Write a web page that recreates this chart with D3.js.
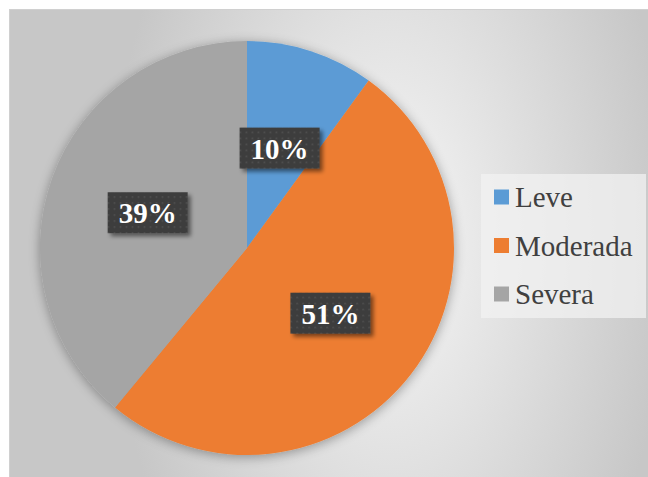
<!DOCTYPE html>
<html>
<head>
<meta charset="utf-8">
<script src="https://cdn.jsdelivr.net/npm/d3@7"></script>
<style>
body { margin:0; background:#fff; }
</style>
</head>
<body>
<div id="chart"></div>
<script>
var categories = ["Leve", "Moderada", "Severa"];
var values = [10, 51, 39];
var colors = ["#5b9bd5", "#ed7d31", "#a5a5a5"];

var width = 648, height = 477;
var cx = 247, cy = 248, radius = 207;
var serif = "'Liberation Serif', 'Times New Roman', serif";

var svg = d3.select("#chart")
    .append("svg")
    .attr("width", width)
    .attr("height", height);

var defs = svg.append("defs");

var grad = defs.append("radialGradient")
    .attr("id", "bg")
    .attr("gradientUnits", "userSpaceOnUse")
    .attr("cx", 390).attr("cy", 240)
    .attr("r", 330)
    .attr("gradientTransform", "translate(390,240) scale(0.85,1.5) translate(-390,-240)");
grad.append("stop").attr("offset", "0%").attr("stop-color", "#f7f7f7");
grad.append("stop").attr("offset", "100%").attr("stop-color", "#c7c7c7");

var shadow = defs.append("filter").attr("id", "pieShadow")
    .attr("x", "-20%").attr("y", "-20%").attr("width", "140%").attr("height", "140%");
shadow.append("feGaussianBlur").attr("in", "SourceAlpha").attr("stdDeviation", 6);
shadow.append("feOffset").attr("dx", 0).attr("dy", 2).attr("result", "b");
shadow.append("feComponentTransfer").append("feFuncA").attr("type", "linear").attr("slope", 0.35);
var merge = shadow.append("feMerge");
merge.append("feMergeNode");
merge.append("feMergeNode").attr("in", "SourceGraphic");

var boxShadow = defs.append("filter").attr("id", "boxShadow")
    .attr("x", "-20%").attr("y", "-20%").attr("width", "150%").attr("height", "160%");
boxShadow.append("feGaussianBlur").attr("in", "SourceAlpha").attr("stdDeviation", 2);
boxShadow.append("feOffset").attr("dx", 3).attr("dy", 3);
boxShadow.append("feComponentTransfer").append("feFuncA").attr("type", "linear").attr("slope", 0.5);
var merge2 = boxShadow.append("feMerge");
merge2.append("feMergeNode");
merge2.append("feMergeNode").attr("in", "SourceGraphic");

var pat = defs.append("pattern").attr("id", "dots")
    .attr("patternUnits", "userSpaceOnUse")
    .attr("width", 6).attr("height", 6);
pat.append("rect").attr("width", 6).attr("height", 6).attr("fill", "#3d3d3d");
pat.append("rect").attr("x", 2).attr("y", 2).attr("width", 1.5).attr("height", 1.5).attr("fill", "#555");

// panel
svg.append("rect")
    .attr("x", 9.5).attr("y", 9.5)
    .attr("width", width - 9).attr("height", height - 9)
    .attr("fill", "url(#bg)")
    .attr("stroke", "#d0d0d0")
    .attr("stroke-width", 1);

var pie = d3.pie().sort(null).value(function(d){ return d; });
var arcs = pie(values);

var arc = d3.arc().innerRadius(0).outerRadius(radius);
var labelArc = d3.arc().innerRadius(radius * 0.51).outerRadius(radius * 0.51);

var g = svg.append("g")
    .attr("transform", "translate(" + cx + "," + cy + ")");

g.append("g").attr("filter", "url(#pieShadow)")
    .selectAll("path")
    .data(arcs)
    .enter()
    .append("path")
    .attr("d", arc)
    .attr("fill", function(d, i){ return colors[i]; });

var lab = g.selectAll(".lab")
    .data(arcs)
    .enter()
    .append("g")
    .attr("class", "lab")
    .attr("transform", function(d){ return "translate(" + labelArc.centroid(d) + ")"; });

lab.append("rect")
    .attr("x", -40).attr("y", -20)
    .attr("width", 80).attr("height", 41)
    .attr("fill", "url(#dots)")
    .attr("filter", "url(#boxShadow)");

lab.append("text")
    .attr("text-anchor", "middle")
    .attr("y", 11)
    .attr("fill", "#fff")
    .style("font-family", serif)
    .style("font-weight", "bold")
    .style("font-size", "29px")
    .text(function(d){ return d.data + "%"; });

// legend
var legend = svg.append("g");
legend.append("rect")
    .attr("x", 481).attr("y", 174)
    .attr("width", 165).attr("height", 144)
    .attr("fill", "#f2f2f2")
    .attr("fill-opacity", 0.75);

var item = legend.selectAll(".item")
    .data(categories)
    .enter()
    .append("g")
    .attr("class", "item")
    .attr("transform", function(d, i){ return "translate(494," + (197 + i * 48.5) + ")"; });

item.append("rect")
    .attr("x", 0).attr("y", -7.5)
    .attr("width", 15).attr("height", 15)
    .attr("fill", function(d, i){ return colors[i]; });

item.append("text")
    .attr("x", 21).attr("y", 10)
    .attr("fill", "#404040")
    .style("font-family", serif)
    .style("font-size", "29px")
    .text(function(d){ return d; });
</script>
</body>
</html>
